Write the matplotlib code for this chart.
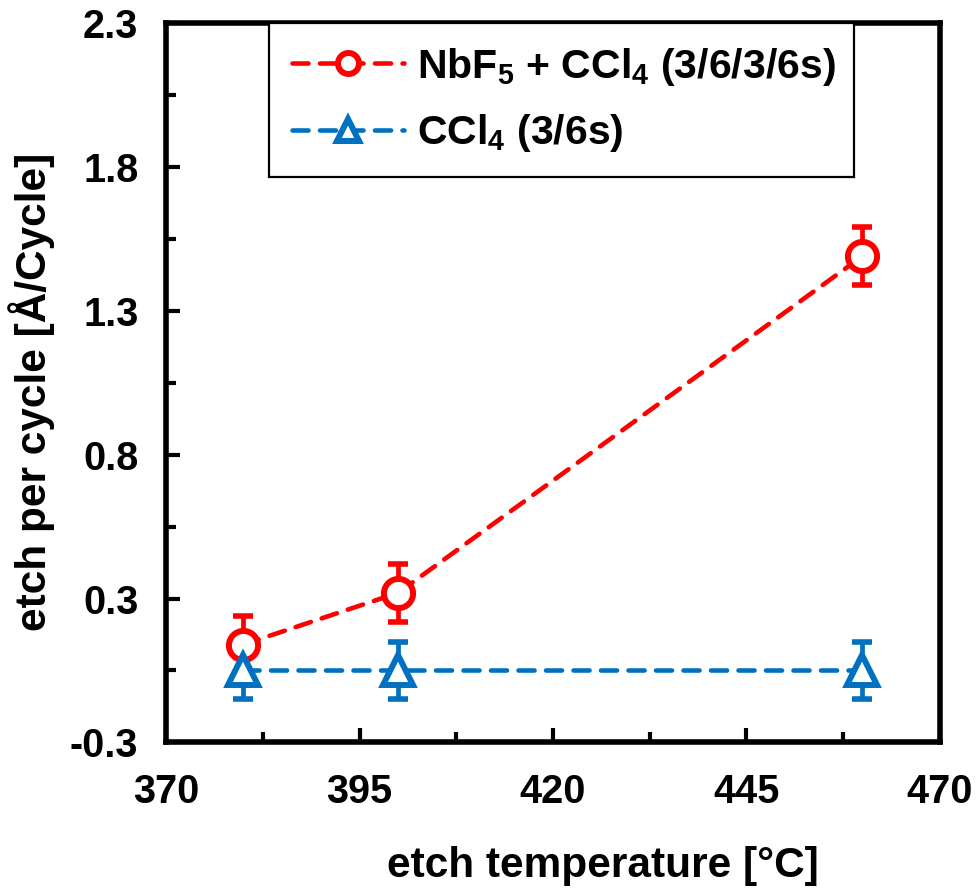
import matplotlib
matplotlib.use("Agg")
import matplotlib.pyplot as plt

# dados
temperatura = [380, 400, 460]
epc_nbf5_ccl4 = [0.09, 0.27, 1.44]
err_nbf5_ccl4 = [0.10, 0.10, 0.10]
epc_ccl4 = [0.0, 0.0, 0.0]
err_ccl4 = [0.10, 0.10, 0.10]

rotulos = [r"NbF$_5$ + CCl$_4$ (3/6/3/6s)", r"CCl$_4$ (3/6s)"]
x_ticks = [370, 395, 420, 445, 470]
y_ticks = [-0.25, 0.25, 0.75, 1.25, 1.75, 2.25]
y_tick_labels = ["-0.3", "0.3", "0.8", "1.3", "1.8", "2.3"]

VERMELHO = "#FF0000"
AZUL = "#0070C0"

plt.rcParams["font.family"] = ["Liberation Sans", "DejaVu Sans"]
plt.rcParams["font.weight"] = "bold"
plt.rcParams["mathtext.fontset"] = "custom"
plt.rcParams["mathtext.rm"] = "Liberation Sans:bold"
plt.rcParams["mathtext.it"] = "Liberation Sans:bold"
plt.rcParams["mathtext.bf"] = "Liberation Sans:bold"
plt.rcParams["mathtext.default"] = "rm"

fig = plt.figure(figsize=(9.77, 8.88), dpi=100)
ax = fig.add_axes([0.170, 0.164, 0.792, 0.810])

# barras de erro primeiro, depois linhas com marcadores por cima
for y, e, cor in [(epc_nbf5_ccl4, err_nbf5_ccl4, VERMELHO), (epc_ccl4, err_ccl4, AZUL)]:
    ax.errorbar(temperatura, y, yerr=e, fmt="none", ecolor=cor,
                elinewidth=3.4, capsize=7, capthick=4)

ax.plot(temperatura, epc_nbf5_ccl4, color=VERMELHO, lw=3.3, dashes=(3.5, 2.5),
        dash_capstyle="round", marker="o", ms=21, mfc="white", mec=VERMELHO,
        mew=4.3, label=rotulos[0])
ax.plot(temperatura, epc_ccl4, color=AZUL, lw=3.3, dashes=(3.5, 2.5),
        dash_capstyle="round", marker="^", ms=22, mfc="white", mec=AZUL,
        mew=4.3, label=rotulos[1])

ax.set_xlim(370, 470)
ax.set_ylim(-0.25, 2.25)
ax.set_xticks(x_ticks)
ax.set_xticks([382.5, 407.5, 432.5, 457.5], minor=True)
ax.set_yticks(y_ticks)
ax.set_yticklabels(y_tick_labels)
ax.set_yticks([0.0, 0.5, 1.0, 1.5, 2.0], minor=True)

for s in ax.spines.values():
    s.set_linewidth(4)
ax.tick_params(which="both", direction="in", width=3, labelsize=28.5)
ax.tick_params(which="major", length=10)
ax.tick_params(which="minor", length=7)
ax.tick_params(axis="x", pad=22)
ax.tick_params(axis="y", pad=20)

ax.set_xlabel("etch temperature [°C]", fontsize=30.5, fontweight="bold")
ax.set_ylabel("etch per cycle [Å/Cycle]", fontsize=30.5, fontweight="bold")
ax.xaxis.set_label_coords(0.565, -0.144)
ax.yaxis.set_label_coords(-0.143, 0.487)

leg = ax.legend(loc="upper left", bbox_to_anchor=(0.133, 1.0, 0.756, 0.0),
                mode="expand", borderaxespad=0, fancybox=False, framealpha=1,
                edgecolor="black", fontsize=29.5, handlelength=2.75,
                handletextpad=0.3, labelspacing=0.6, borderpad=0.55,
                markerscale=0.72)
leg.get_frame().set_linewidth(1.6)

fig.savefig("out.png", dpi=100)
